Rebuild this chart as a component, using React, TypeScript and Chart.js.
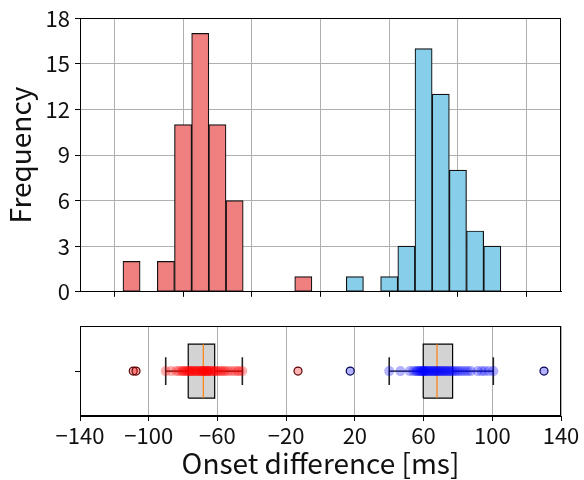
import React, { useEffect, useRef } from "react";
import { Chart, registerables } from "chart.js";

Chart.register(...registerables);

// ---------- data ----------
const xTickValues = [-140, -100, -60, -20, 20, 60, 100, 140];
const yTickValues = [0, 3, 6, 9, 12, 15, 18];

const redBinCenters = [-110, -90, -80, -70, -60, -50, -10];
const redCounts = [2, 2, 11, 17, 11, 6, 1];
const blueBinCenters = [20, 40, 50, 60, 70, 80, 90, 100];
const blueCounts = [1, 1, 3, 16, 13, 8, 4, 3];

// box stats: [whisker low, Q1, median, Q3, whisker high]
const redBoxStats = [-90.1, -77.0, -68.2, -61.6, -45.5];
const blueBoxStats = [40.0, 59.8, 67.8, 76.9, 100.6];
const redFliers = [-109.0, -107.4, -13.1];
const blueFliers = [17.3, 130.1];

const redPoints = [
  -90.1, -87.0,
  -84.0, -82.5, -81.0, -80.2, -79.5, -78.6, -77.8, -77.0, -76.5, -75.9, -75.3,
  -74.6, -73.9, -73.1, -72.4, -71.8, -71.0, -70.3, -69.6, -69.0, -68.4, -68.2,
  -67.7, -67.0, -66.4, -66.0, -65.6, -65.2,
  -64.6, -63.8, -63.0, -62.1, -61.5, -60.8, -59.9, -58.7, -57.6, -56.5, -55.4,
  -53.8, -52.0, -50.1, -48.3, -47.2, -45.5,
];
const bluePoints = [
  40.0,
  46.5, 52.0, 54.0,
  55.5, 56.2, 57.0, 57.8, 58.5, 59.0, 59.5, 59.8, 60.2, 60.6, 61.0, 61.8, 62.5, 63.2, 63.9, 64.6,
  65.3, 66.0, 66.8, 67.5, 68.1, 68.9, 69.6, 70.4, 71.2, 72.0, 72.9, 73.7, 74.5,
  75.4, 76.3, 77.2, 78.4, 79.6, 81.0, 82.5, 84.2,
  85.8, 87.5, 91.5, 93.8,
  95.6, 98.0, 100.6,
];

const xAxisTitle = "Onset difference [ms]";
const yAxisTitle = "Frequency";

// ---------- styling ----------
const FONT = "'Noto Sans CJK JP', 'Noto Sans', sans-serif";
const GRID = "#b0b0b0";
const TICK_SIZE = 22;
const TITLE_SIZE = 28;
const BOX_HALF = 0.3;
const CAP_HALF = 0.155;
const CENTER = 0.5;

const fmt = (v: number) => (v < 0 ? "\u2212" + Math.abs(v) : String(v));

const framePlugin = {
  id: "frame",
  afterDatasetsDraw(chart: any) {
    const { ctx, chartArea } = chart;
    ctx.save();
    ctx.strokeStyle = "#000";
    ctx.lineWidth = 1;
    ctx.strokeRect(
      Math.round(chartArea.left) + 0.5,
      Math.round(chartArea.top) + 0.5,
      Math.round(chartArea.right - chartArea.left) - 1,
      Math.round(chartArea.bottom - chartArea.top) - 1
    );
    ctx.restore();
  },
};

function boxDatasets(stats: number[], pointColor: string, points: number[], fliers: number[], flierFace: string, flierEdge: string) {
  const [wl, q1, med, q3, wh] = stats;
  const seg = (pts: { x: number; y: number }[], color: string, width: number) => ({
    type: "scatter" as const,
    data: pts,
    showLine: true,
    borderColor: color,
    borderWidth: width,
    pointRadius: 0,
    fill: false,
  });
  return {
    box: {
      type: "scatter" as const,
      data: [
        { x: q1, y: CENTER - BOX_HALF },
        { x: q1, y: CENTER + BOX_HALF },
        { x: q3, y: CENTER + BOX_HALF },
        { x: q3, y: CENTER - BOX_HALF },
        { x: q1, y: CENTER - BOX_HALF },
      ],
      showLine: true,
      borderColor: "#000",
      borderWidth: 1.2,
      backgroundColor: "#d3d3d3",
      fill: "shape",
      pointRadius: 0,
    },
    lines: [
      seg([{ x: wl, y: CENTER }, { x: q1, y: CENTER }], "#000", 1.2),
      seg([{ x: q3, y: CENTER }, { x: wh, y: CENTER }], "#000", 1.2),
      seg([{ x: wl, y: CENTER - CAP_HALF }, { x: wl, y: CENTER + CAP_HALF }], "#222", 1.6),
      seg([{ x: wh, y: CENTER - CAP_HALF }, { x: wh, y: CENTER + CAP_HALF }], "#222", 1.6),
      seg([{ x: med, y: CENTER - BOX_HALF }, { x: med, y: CENTER + BOX_HALF }], "#ff7f0e", 1.2),
    ],
    dots: {
      type: "scatter" as const,
      data: points.map((v) => ({ x: v, y: CENTER })),
      pointRadius: 5,
      pointBackgroundColor: pointColor,
      pointBorderWidth: 0,
      borderWidth: 0,
    },
    fliers: {
      type: "scatter" as const,
      data: fliers.map((v) => ({ x: v, y: CENTER })),
      pointRadius: 4,
      pointBackgroundColor: flierFace,
      pointBorderColor: flierEdge,
      pointBorderWidth: 1.2,
    },
  };
}

export default function App() {
  const topRef = useRef<HTMLCanvasElement | null>(null);
  const botRef = useRef<HTMLCanvasElement | null>(null);

  useEffect(() => {
    const xTicksHook = (s: any) => {
      s.ticks = xTickValues.map((v) => ({ value: v }));
    };
    const top = new Chart(topRef.current!, {
      type: "bar",
      data: {
        datasets: [
          {
            data: redBinCenters.map((x, i) => ({ x, y: redCounts[i] })),
            backgroundColor: "#f08080",
            borderColor: "#111",
            borderWidth: 1.2,
            borderSkipped: false,
            grouped: false,
            barPercentage: 1,
            categoryPercentage: 1,
          } as any,
          {
            data: blueBinCenters.map((x, i) => ({ x, y: blueCounts[i] })),
            backgroundColor: "#87ceeb",
            borderColor: "#111",
            borderWidth: 1.2,
            borderSkipped: false,
            grouped: false,
            barPercentage: 1,
            categoryPercentage: 1,
          } as any,
        ],
      },
      options: {
        animation: false,
        responsive: false,
        layout: { padding: { top: 16, right: 23, left: 0, bottom: 0 } },
        plugins: { legend: { display: false }, tooltip: { enabled: false } },
        scales: {
          x: {
            type: "linear",
            min: -140,
            max: 140,
            offset: false,
            afterBuildTicks: xTicksHook,
            ticks: { display: false },
            grid: { color: GRID, tickColor: "#000", tickLength: 5, lineWidth: 1 },
            border: { color: "#000" },
            afterFit: (s: any) => {
              s.height = 15;
            },
          },
          y: {
            min: 0,
            max: 18,
            afterBuildTicks: (s: any) => {
              s.ticks = yTickValues.map((v) => ({ value: v }));
            },
            ticks: { font: { family: FONT, size: TICK_SIZE }, color: "#111", padding: 5 },
            grid: { color: GRID, tickColor: "#000", tickLength: 5, lineWidth: 1 },
            border: { color: "#000" },
            title: {
              display: true,
              text: yAxisTitle,
              color: "#111",
              font: { family: FONT, size: TITLE_SIZE },
              padding: { top: 4, bottom: 0 },
            },
            afterFit: (s: any) => {
              s.width = 80;
            },
          },
        } as any,
      },
      plugins: [framePlugin],
    });

    const red = boxDatasets(redBoxStats, "rgba(255,0,0,0.3)", redPoints, redFliers, "rgba(255,0,0,0.3)", "#5a0000");
    const blue = boxDatasets(blueBoxStats, "rgba(0,0,255,0.3)", bluePoints, blueFliers, "rgba(0,0,255,0.3)", "#000050");

    const bot = new Chart(botRef.current!, {
      type: "scatter",
      data: {
        datasets: [
          red.fliers,
          blue.fliers,
          red.dots,
          blue.dots,
          ...red.lines,
          ...blue.lines,
          red.box,
          blue.box,
        ] as any,
      },
      options: {
        animation: false,
        responsive: false,
        layout: { padding: { top: 13, right: 23, left: 0, bottom: 0 } },
        plugins: { legend: { display: false }, tooltip: { enabled: false } },
        scales: {
          x: {
            type: "linear",
            min: -140,
            max: 140,
            afterBuildTicks: xTicksHook,
            ticks: {
              font: { family: FONT, size: TICK_SIZE },
              color: "#111",
              padding: 1,
              autoSkip: false,
              maxRotation: 0,
              callback: (v: any) => fmt(Number(v)),
            },
            grid: { color: GRID, tickColor: "#000", tickLength: 5, lineWidth: 1 },
            border: { color: "#000" },
            title: {
              display: true,
              text: xAxisTitle,
              color: "#111",
              font: { family: FONT, size: TITLE_SIZE },
              padding: { top: 0, bottom: 0 },
            },
            afterFit: (s: any) => {
              s.height = 64;
            },
          },
          y: {
            min: 0,
            max: 1,
            afterBuildTicks: (s: any) => {
              s.ticks = [{ value: CENTER }];
            },
            ticks: { callback: () => "", font: { family: FONT, size: TICK_SIZE } },
            grid: { drawOnChartArea: false, tickColor: "#000", tickLength: 5 },
            border: { color: "#000" },
            afterFit: (s: any) => {
              s.width = 80;
            },
          },
        } as any,
      },
      plugins: [framePlugin],
    });

    return () => {
      top.destroy();
      bot.destroy();
    };
  }, []);

  return (
    <div style={{ position: "absolute", left: 0, top: 0, width: 584, height: 480, background: "#fff" }}>
      <canvas ref={topRef} width={584} height={310} style={{ position: "absolute", left: 0, top: 0, width: 584, height: 310 }} />
      <canvas ref={botRef} width={584} height={170} style={{ position: "absolute", left: 0, top: 310, width: 584, height: 170 }} />
    </div>
  );
}
